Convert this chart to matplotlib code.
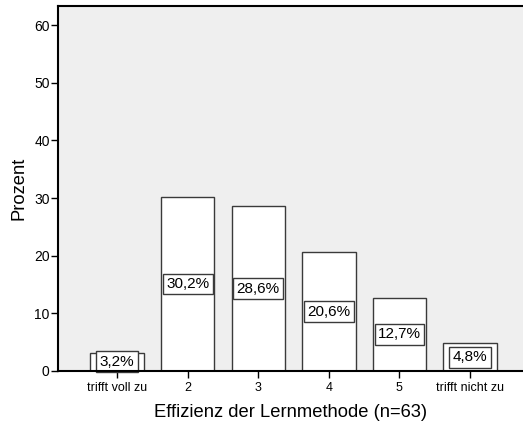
import matplotlib
matplotlib.use("Agg")
import matplotlib.pyplot as plt

categories = ["trifft voll zu", "2", "3", "4", "5", "trifft nicht zu"]
values = [3.2, 30.2, 28.6, 20.6, 12.7, 4.8]
labels = ["3,2%", "30,2%", "28,6%", "20,6%", "12,7%", "4,8%"]
yticks = [0, 10, 20, 30, 40, 50, 60]

plt.rcParams['font.family'] = ['Liberation Sans', 'DejaVu Sans']

fig = plt.figure(figsize=(5.23, 4.32), dpi=100)
ax = fig.add_axes([58/523, 61/432, 1 - 58/523, (371-6)/432])
ax.set_facecolor('#EFEFEF')

x = list(range(len(categories)))
ax.bar(x, values, width=0.756, color='white', edgecolor='#3a3a3a', linewidth=1.0, zorder=2)
for xi, v, lab in zip(x, values, labels):
    ax.text(xi, v / 2, lab, ha='center', va='center', fontsize=11, zorder=4,
            bbox=dict(boxstyle='square,pad=0.22', facecolor='white', edgecolor='#3a3a3a', linewidth=1.0))

ax.set_xlim(-0.836, 5.75)
ax.set_ylim(0, 63.3)
ax.set_yticks(yticks)
ax.set_xticks(x)
ax.set_xticklabels(categories, fontsize=9)
ax.tick_params(axis='y', labelsize=10, length=5, width=1, direction='out', pad=1)
ax.tick_params(axis='x', length=5, width=1, direction='out', pad=3)

for s in ['left', 'bottom', 'top']:
    ax.spines[s].set_linewidth(1.5)
    ax.spines[s].set_color('black')
    ax.spines[s].set_zorder(6)
ax.spines['right'].set_visible(False)

ax.set_xlabel('Effizienz der Lernmethode (n=63)', fontsize=13.2, labelpad=7)
ax.set_ylabel('Prozent', fontsize=13.2, labelpad=5)

fig.savefig('out.png', dpi=100)
